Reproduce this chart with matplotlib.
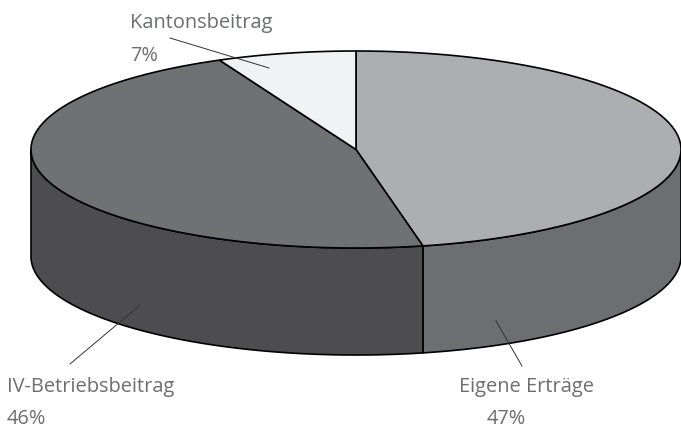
import numpy as np
from matplotlib import pyplot as plt

labels = ['Eigene Erträge', 'IV-Betriebsbeitrag', 'Kantonsbeitrag']
percents = ['47%', '46%', '7%']
# slice sizes, the printed labels are rounded
shares = [46.7, 46.4, 6.9]
top_colors = ['#adaeb2', '#707174', '#f1f2f4']
side_colors = ['#6d6e71', '#4d4d4f', None]

# pie geometry in pixels
cx, cy = 356, 149.5
a, b = 325, 98.5
depth = 107
text_color = '#6d6e71'


def rim(start, stop):
    t = np.radians(np.linspace(start, stop, 300))
    return cx + a * np.sin(t), cy - b * np.cos(t)


fig = plt.figure(figsize=(6.81, 4.30), dpi=100)
ax = fig.add_axes([0, 0, 1, 1])
ax.set_xlim(0, 681)
ax.set_ylim(430, 0)
ax.axis('off')

edges = np.cumsum([0] + shares) * 3.6

# side wall, only the front half of the rim is visible
for i in range(len(shares)):
    if side_colors[i] is None:
        continue
    start = max(edges[i], 90)
    stop = min(edges[i + 1], 270)
    x, y = rim(start, stop)
    ax.fill(np.r_[x, x[::-1]], np.r_[y, y[::-1] + depth],
            facecolor=side_colors[i], edgecolor='black', lw=1.2, joinstyle='round')

# top face
for i in range(len(shares)):
    x, y = rim(edges[i], edges[i + 1])
    ax.fill(np.r_[cx, x], np.r_[cy, y], facecolor=top_colors[i],
            edgecolor='black', lw=1.2, joinstyle='miter')

# leader lines
ax.plot([170, 269], [38, 68], color='#333333', lw=0.7)
ax.plot([70, 139], [364, 306], color='#333333', lw=0.7)
ax.plot([496, 522], [321, 366], color='#333333', lw=0.7)

font = dict(family='Open Sans', fontsize=14.4, color=text_color, va='center')
ax.text(130, 23, labels[2], **font)
ax.text(130, 56, percents[2], **font)
ax.text(7, 387, labels[1], **font)
ax.text(7, 419, percents[1], **font)
ax.text(459, 387, labels[0], **font)
ax.text(487, 419, percents[0], **font)

fig.savefig('out.png', dpi=100)
